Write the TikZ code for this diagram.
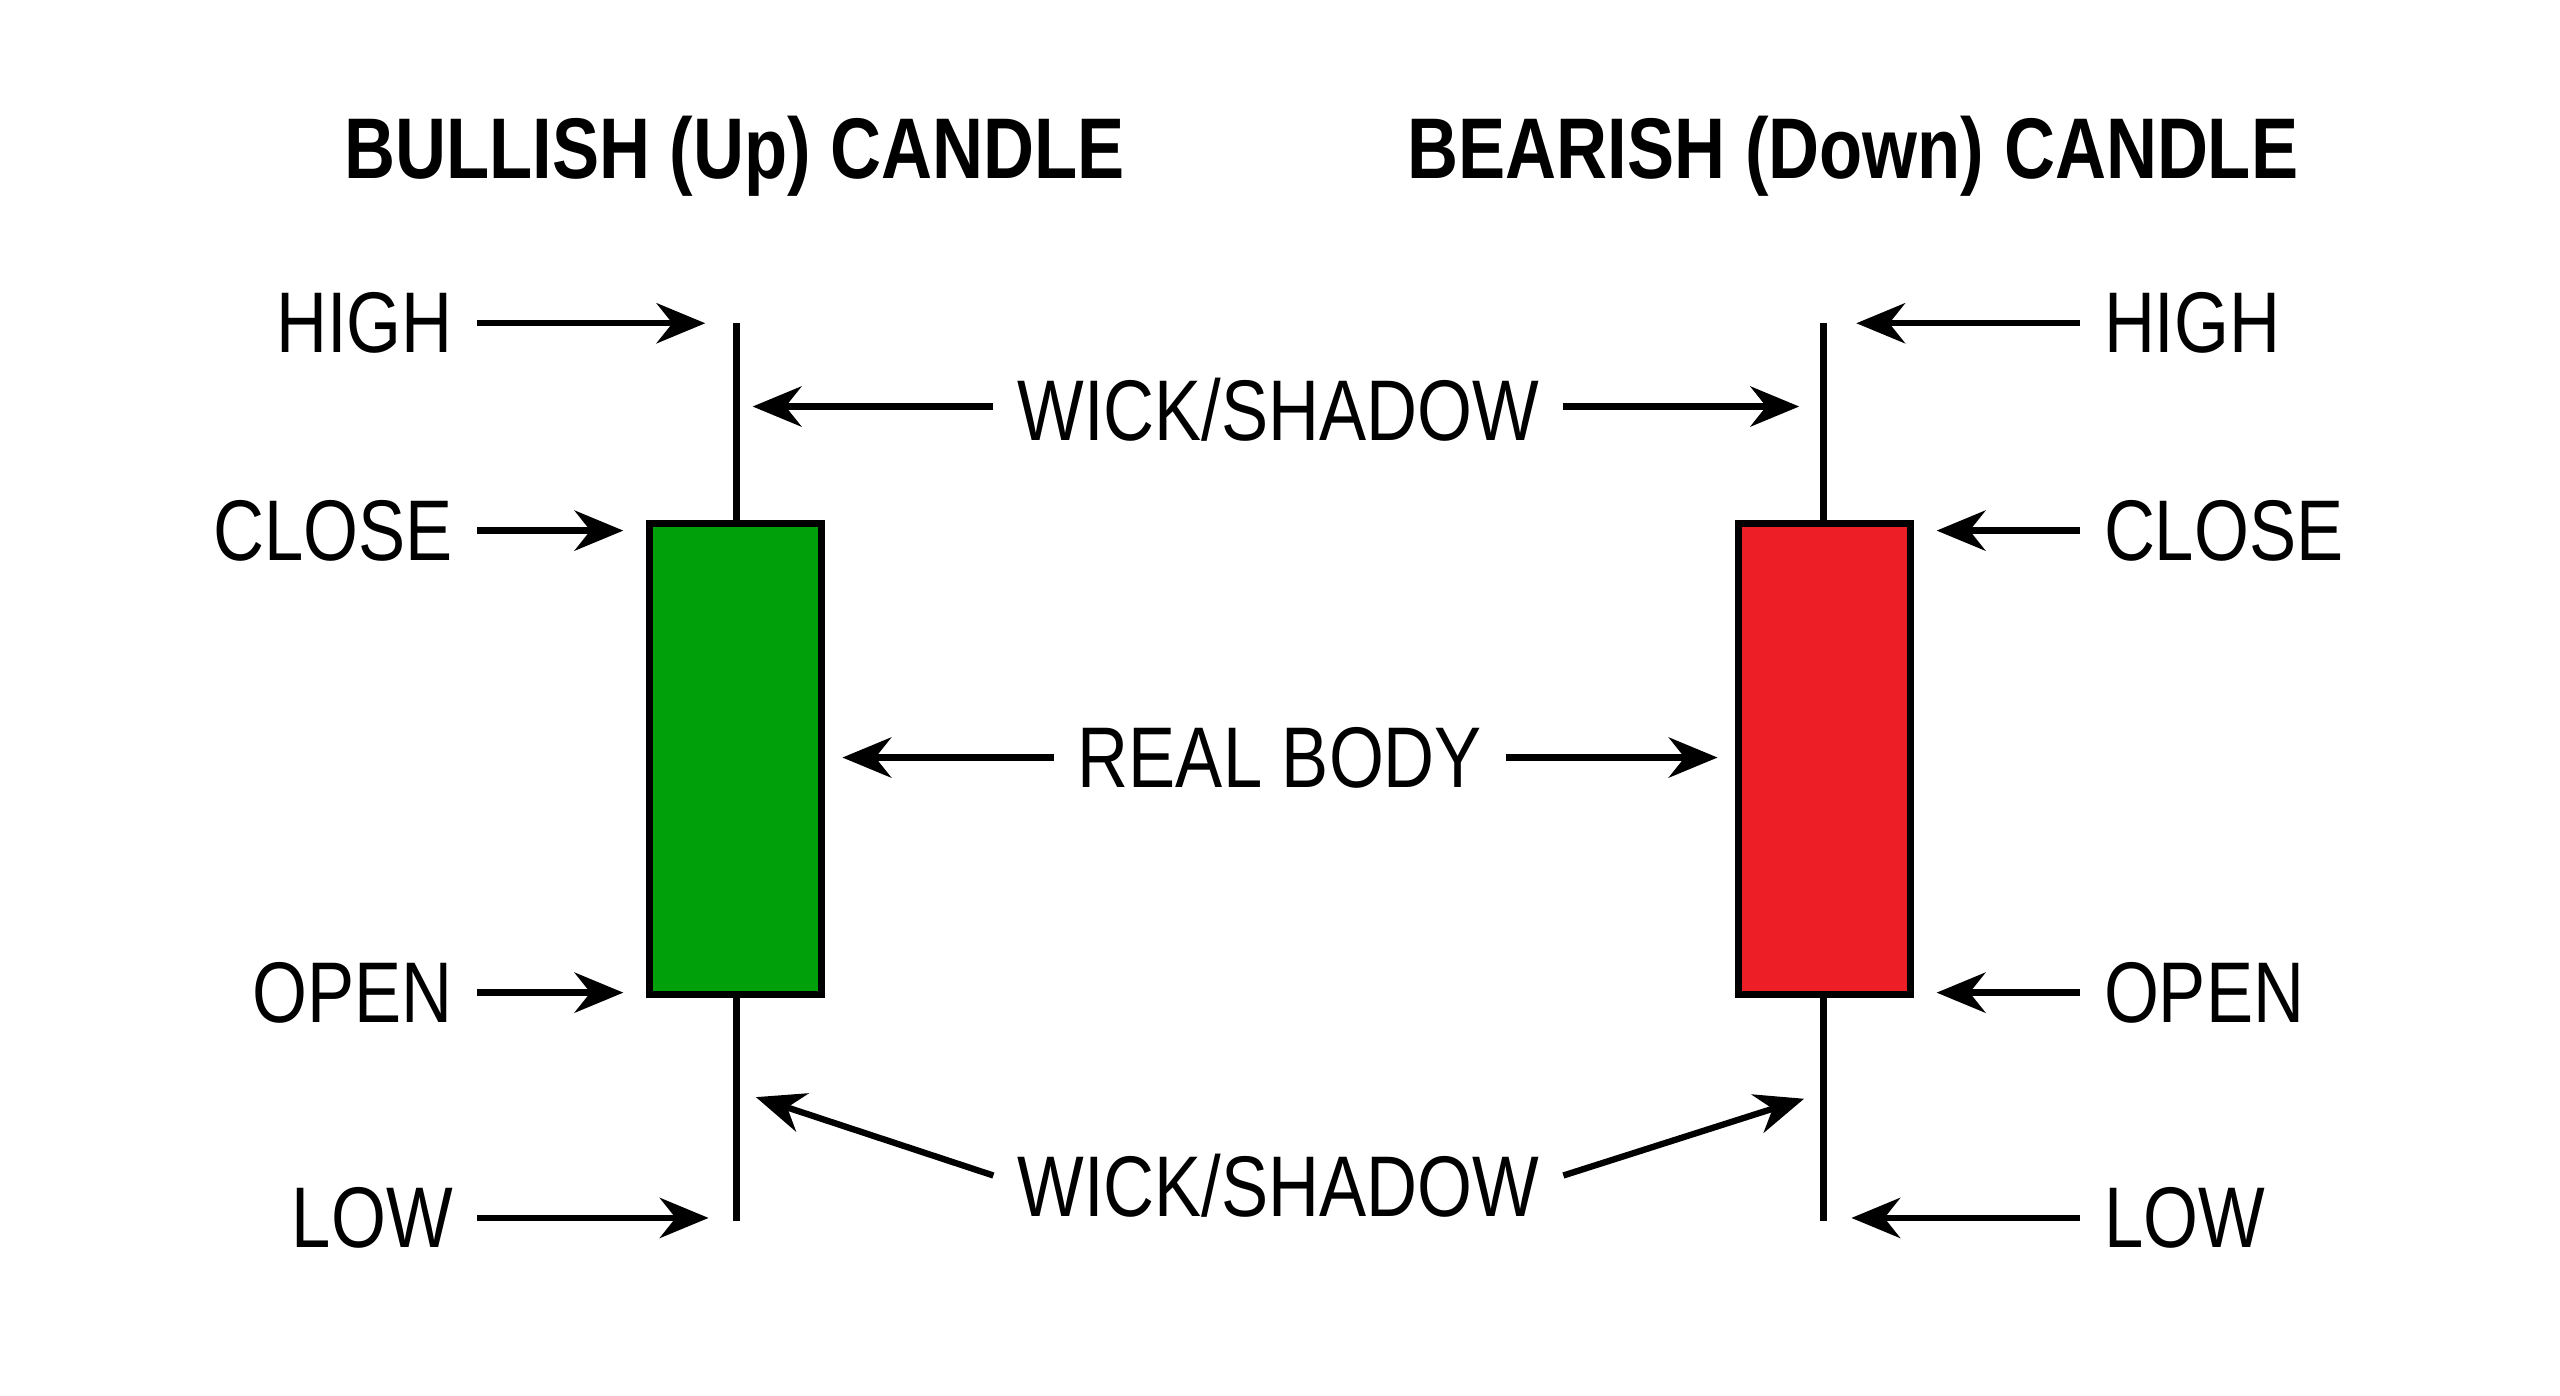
\documentclass[tikz,border=0pt]{standalone}
\usepackage{fontspec}
\setmainfont{Liberation Sans}[FakeStretch=0.82]
\usetikzlibrary{arrows.meta}
\begin{document}
\begin{tikzpicture}[x=0.01cm, y=-0.01cm,
    lbl/.style = {font=\fontsize{15}{18}\selectfont, inner sep=0pt},
    ttl/.style = {font=\fontsize{15}{18}\selectfont\bfseries, inner sep=0pt},
    arr/.style = {-{Stealth[length=8.5pt, width=7pt]}, line width=1.1pt},
    body/.style = {draw, line width=1.2pt, minimum width=1.05cm, minimum height=2.88cm, inner sep=0pt}]
		\useasboundingbox (0,0) rectangle (1568,855);
		% titles
		\node[ttl] (TBull) at (450,96) {BULLISH (Up) CANDLE};
		\node[ttl] (TBear) at (1135,96) {BEARISH (Down) CANDLE};
		% bullish candle
		\coordinate (GHigh) at (451,198);
		\coordinate (GLow) at (451,748);
		\draw[line width=1.2pt] (GHigh) -- (GLow);
		\node[body, fill={rgb,255:red,0;green,160;blue,10}] (GBody) at (450.5,465) {};
		% bearish candle
		\coordinate (RHigh) at (1117,198);
		\coordinate (RLow) at (1117,748);
		\draw[line width=1.2pt] (RHigh) -- (RLow);
		\node[body, fill={rgb,255:red,237;green,30;blue,38}] (RBody) at (1117.5,465) {};
		% left labels
		\node[lbl, anchor=east] (LHigh) at (278,198) {HIGH};
		\node[lbl, anchor=east] (LClose) at (278,325) {CLOSE};
		\node[lbl, anchor=east] (LOpen) at (278,608) {OPEN};
		\node[lbl, anchor=east] (LLow) at (278,746) {LOW};
		\coordinate (aLHigh) at (432,198);
		\coordinate (aLLow) at (434,746);
		\draw[arr] ([xshift=4pt]LHigh.east) -- (aLHigh);
		\draw[arr] ([xshift=4pt]LClose.east) -- ([xshift=-4pt]GBody.north west |- LClose);
		\draw[arr] ([xshift=4pt]LOpen.east) -- ([xshift=-4pt]GBody.south west |- LOpen);
		\draw[arr] ([xshift=4pt]LLow.east) -- (aLLow);
		% right labels
		\node[lbl, anchor=west] (RtHigh) at (1288,198) {HIGH};
		\node[lbl, anchor=west] (RtClose) at (1288,325) {CLOSE};
		\node[lbl, anchor=west] (RtOpen) at (1288,608) {OPEN};
		\node[lbl, anchor=west] (RtLow) at (1288,746) {LOW};
		\coordinate (aRHigh) at (1137,198);
		\coordinate (aRLow) at (1134,746);
		\draw[arr] ([xshift=-4pt]RtHigh.west) -- (aRHigh);
		\draw[arr] ([xshift=-4pt]RtClose.west) -- ([xshift=4pt]RBody.north east |- RtClose);
		\draw[arr] ([xshift=-4pt]RtOpen.west) -- ([xshift=4pt]RBody.south east |- RtOpen);
		\draw[arr] ([xshift=-4pt]RtLow.west) -- (aRLow);
		% middle labels
		\node[lbl] (WickTop) at (783,251) {WICK/SHADOW};
		\node[lbl] (Real) at (784,464) {REAL BODY};
		\node[lbl] (WickBot) at (783,726) {WICK/SHADOW};
		\coordinate (wtL) at (461,249);
		\coordinate (wtR) at (1102,249);
		\coordinate (rbL) at (516,464);
		\coordinate (rbR) at (1052,464);
		\coordinate (wbL) at (463,672);
		\coordinate (wbR) at (1105,673);
		\draw[arr] ([xshift=-4pt]WickTop.west |- wtL) -- (wtL);
		\draw[arr] ([xshift=4pt]WickTop.east |- wtR) -- (wtR);
		\draw[arr] ([xshift=-4pt]Real.west) -- (rbL);
		\draw[arr] ([xshift=4pt]Real.east) -- (rbR);
		\draw[arr] ([xshift=-4pt]WickBot.west |- 0,720) -- (wbL);
		\draw[arr] ([xshift=4pt]WickBot.east |- 0,720) -- (wbR);
	\end{tikzpicture}
\end{document}
